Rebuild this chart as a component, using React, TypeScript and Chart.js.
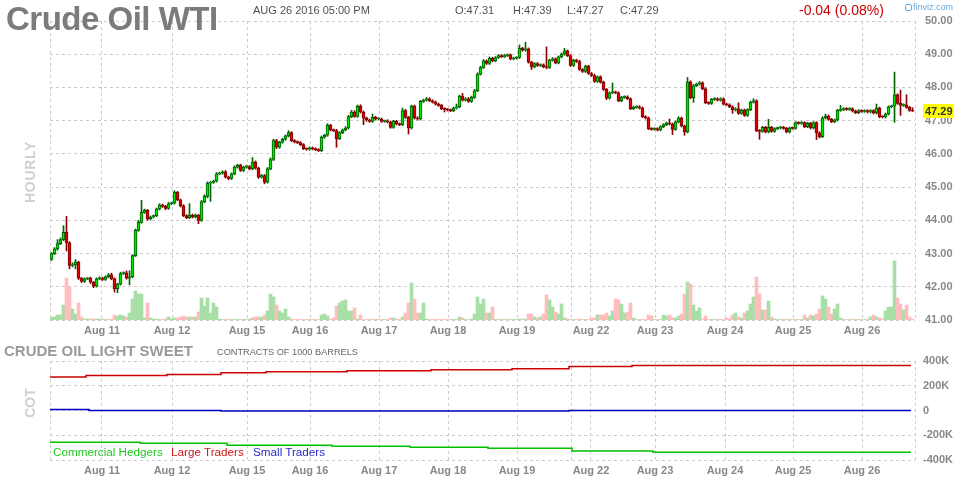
import React, { useEffect, useRef } from "react";
import { Chart, registerables } from "chart.js";

Chart.register(...registerables);

const FONT = "Arial, 'Liberation Sans', Helvetica, sans-serif";

// ---------- hourly candles (Aug 10 07:00 .. Aug 26 17:00) ----------
const firstOpen = 42.82;
const closes = [
  43.00, 43.14, 43.30, 43.42, 43.64, 43.32, 42.64, 42.66, 42.74, 42.26,
  42.16, 42.24, 42.26, 42.14, 42.02, 42.24, 42.26, 42.22, 42.30, 42.36,
  42.24, 41.94, 42.08, 42.40, 42.42, 42.26, 42.30, 42.94, 43.70, 43.94,
  44.24, 44.30, 44.04, 44.10, 44.14, 44.34, 44.46, 44.42, 44.36, 44.50,
  44.52, 44.84, 44.62, 44.44, 44.14, 44.08, 44.16, 44.10, 44.16, 44.00,
  44.56, 44.72, 45.12, 45.14, 45.18, 45.40, 45.42, 45.46, 45.30, 45.26,
  45.40, 45.60, 45.66, 45.50, 45.60, 45.62, 45.55, 45.75, 45.57, 45.30,
  45.35, 45.15, 45.55, 45.83, 46.40, 46.20, 46.35, 46.44, 46.54, 46.64,
  46.40, 46.36, 46.34, 46.28, 46.16, 46.14, 46.18, 46.15, 46.13, 46.10,
  46.50, 46.56, 46.86, 46.72, 46.70, 46.46, 46.64, 46.72, 46.78, 47.12,
  47.26, 47.13, 47.44, 47.26, 47.08, 47.02, 46.98, 47.10, 47.05, 47.05,
  46.98, 46.99, 46.96, 46.80, 46.98, 46.90, 46.88, 47.30, 47.10, 46.78,
  47.44, 47.08, 47.05, 47.58, 47.62, 47.66, 47.60, 47.56, 47.50, 47.46,
  47.36, 47.34, 47.32, 47.30, 47.38, 47.42, 47.74, 47.62, 47.66, 47.58,
  47.70, 47.90, 48.40, 48.60, 48.80, 48.72, 48.88, 48.80, 48.90, 48.96,
  48.93, 48.96, 48.98, 48.86, 48.88, 48.90, 49.18, 49.12, 49.16, 48.76,
  48.62, 48.72, 48.66, 48.68, 48.62, 48.60, 48.82, 48.86, 48.74, 48.92,
  49.00, 49.10, 48.96, 48.66, 48.82, 48.78, 48.54, 48.48, 48.64, 48.42,
  48.36, 48.18, 48.32, 48.16, 47.94, 47.68, 47.84, 47.86, 47.84, 47.60,
  47.70, 47.72, 47.66, 47.36, 47.40, 47.42, 47.38, 47.12, 47.08, 46.76,
  46.74, 46.76, 46.72, 46.82, 46.88, 46.93, 46.90, 46.74, 46.96, 47.08,
  46.84, 46.66, 48.17, 47.69, 48.05, 48.10, 48.14, 47.96, 47.54, 47.52,
  47.64, 47.66, 47.62, 47.66, 47.50, 47.48, 47.42, 47.32, 47.36, 47.22,
  47.32, 47.16, 47.33, 47.56, 47.60, 46.70, 46.68, 46.80, 46.66, 46.80,
  46.68, 46.76, 46.78, 46.80, 46.77, 46.66, 46.78, 46.77, 46.94, 46.92,
  46.94, 46.82, 46.92, 46.78, 46.94, 46.63, 46.52, 47.08, 47.14, 47.04,
  46.97, 47.02, 47.31, 47.33, 47.36, 47.34, 47.36, 47.29, 47.24, 47.30,
  47.28, 47.30, 47.26, 47.30, 47.23, 47.38, 47.12, 47.11, 47.20, 47.42,
  47.44, 47.78, 47.52, 47.46, 47.48, 47.40, 47.31, 47.29,
];

// upper / lower shadow lengths, in cents
const wickUp = [
  3, 4, 12, 5, 20, 48, 4, 6, 8, 3,
  2, 3, 2, 3, 2, 3, 4, 3, 3, 4,
  5, 3, 3, 4, 3, 6, 18, 3, 4, 6,
  36, 4, 3, 3, 2, 3, 4, 3, 3, 4,
  3, 5, 3, 2, 3, 3, 34, 3, 3, 2,
  4, 5, 4, 3, 3, 4, 3, 3, 4, 3,
  3, 4, 3, 3, 3, 4, 3, 14, 4, 3,
  3, 3, 4, 5, 4, 4, 3, 3, 3, 6,
  3, 3, 3, 3, 3, 2, 3, 3, 3, 3,
  4, 3, 5, 3, 3, 4, 3, 3, 4, 4,
  5, 4, 3, 4, 3, 3, 3, 10, 3, 4,
  3, 3, 4, 3, 3, 3, 3, 8, 4, 3,
  3, 3, 4, 3, 3, 4, 3, 3, 3, 3,
  3, 3, 3, 3, 3, 8, 3, 8, 3, 4,
  4, 4, 4, 4, 4, 3, 4, 3, 3, 3,
  3, 4, 3, 3, 3, 3, 10, 3, 20, 3,
  3, 3, 3, 3, 3, 60, 3, 4, 3, 3,
  4, 8, 3, 3, 3, 3, 4, 3, 3, 3,
  3, 4, 3, 3, 3, 3, 3, 27, 3, 3,
  3, 3, 3, 3, 4, 3, 3, 3, 3, 3,
  3, 3, 3, 3, 3, 3, 12, 3, 3, 4,
  3, 3, 13, 3, 4, 3, 4, 3, 3, 3,
  3, 3, 3, 3, 3, 3, 3, 3, 3, 18,
  3, 3, 3, 3, 6, 3, 3, 3, 3, 24,
  3, 3, 3, 3, 3, 3, 3, 3, 3, 3,
  3, 3, 3, 3, 3, 3, 4, 4, 6, 3,
  3, 3, 3, 13, 3, 3, 3, 3, 3, 3,
  3, 3, 3, 3, 3, 12, 3, 3, 3, 3,
  3, 68, 3, 40, 3, 30, 3, 8,
];
const wickDn = [
  3, 3, 4, 3, 3, 24, 10, 4, 12, 4,
  3, 3, 3, 4, 5, 3, 3, 3, 3, 3,
  3, 10, 12, 3, 3, 3, 20, 3, 3, 3,
  3, 3, 4, 3, 3, 3, 3, 3, 4, 3,
  3, 3, 3, 4, 3, 3, 3, 3, 3, 10,
  3, 3, 4, 55, 3, 3, 3, 3, 3, 4,
  3, 3, 3, 3, 3, 3, 3, 3, 3, 4,
  3, 5, 3, 3, 3, 4, 3, 3, 3, 3,
  3, 3, 3, 3, 3, 3, 3, 3, 3, 3,
  3, 3, 3, 3, 3, 26, 3, 3, 3, 3,
  3, 3, 3, 3, 20, 4, 3, 3, 3, 3,
  3, 3, 3, 3, 3, 3, 3, 3, 3, 18,
  3, 3, 3, 3, 3, 3, 3, 3, 3, 3,
  3, 8, 3, 3, 3, 3, 3, 3, 3, 3,
  3, 3, 3, 3, 3, 3, 3, 3, 3, 3,
  3, 3, 3, 3, 3, 3, 3, 3, 3, 3,
  8, 3, 3, 3, 3, 4, 3, 3, 3, 3,
  3, 3, 3, 3, 3, 3, 3, 3, 3, 3,
  3, 3, 3, 3, 3, 5, 3, 3, 3, 3,
  3, 3, 3, 3, 3, 3, 3, 3, 3, 3,
  3, 3, 3, 3, 3, 3, 3, 16, 3, 3,
  3, 10, 3, 3, 14, 3, 3, 3, 3, 3,
  3, 3, 3, 3, 3, 3, 3, 10, 3, 3,
  3, 3, 3, 3, 3, 3, 24, 3, 3, 3,
  3, 3, 3, 3, 3, 3, 3, 3, 3, 3,
  3, 3, 3, 3, 3, 20, 4, 3, 3, 3,
  3, 3, 3, 3, 3, 3, 3, 3, 3, 3,
  3, 3, 3, 3, 3, 3, 3, 3, 3, 3,
  3, 49, 3, 30, 3, 3, 3, 2,
];

// hourly volume, thousands of contracts
const volumes = [
  3, 3, 5, 5, 15, 42, 33, 11, 6, 17,
  3, 1, 1, 1, 1, 1, 1, 1, 0.5, 0.5,
  1, 5, 4, 5, 4, 3, 7, 21, 29, 26,
  26, 2, 17, 2, 1, 1, 0.5, 0.5, 1, 3,
  1, 2, 2, 3, 4, 3, 3, 3, 3, 8,
  22, 14, 22, 7, 17, 13, 1, 0.5, 0.5, 0.5,
  0.5, 0.5, 0.5, 0.5, 0.5, 0.5, 1, 2, 3, 3,
  3, 5, 9, 26, 23, 15, 9, 7, 11, 3,
  1, 0.5, 0.5, 0.5, 0.5, 0.5, 0.5, 0.5, 0.5, 0.5,
  5, 6, 4, 1, 2, 14, 17, 19, 20, 9,
  9, 12, 1, 5, 0.5, 0.5, 0.5, 0.5, 0.5, 0.5,
  0.5, 0.5, 0.5, 2, 2, 1, 0.5, 3, 7, 17,
  37, 21, 7, 7, 17, 1, 0.5, 0.5, 0.5, 0.5,
  0.5, 0.5, 0.5, 0.5, 0.5, 0.5, 3, 2, 0.5, 0.5,
  1, 6, 23, 16, 21, 7, 7, 13, 0.5, 0.5,
  0.5, 0.5, 0.5, 0.5, 0.5, 0.5, 1, 1, 1, 6,
  6, 3, 2, 3, 6, 25, 20, 13, 8, 6,
  16, 2, 1, 0.5, 0.5, 0.5, 1, 0.5, 0.5, 0.5,
  2, 2, 5, 5, 5, 7, 4, 9, 21, 20,
  16, 7, 8, 17, 2, 0.5, 0.5, 0.5, 0.5, 5,
  4, 0.5, 0.5, 0.5, 5, 4, 5, 2, 2, 4,
  6, 26, 38, 36, 15, 9, 12, 1, 4, 0.5,
  0.5, 0.5, 0.5, 0.5, 0.5, 2, 1, 5, 7, 3,
  2, 7, 9, 16, 23, 43, 26, 10, 10, 19,
  3, 1, 0.5, 0.5, 0.5, 0.5, 0.5, 0.5, 0.5, 0.5,
  0.5, 5, 2, 5, 4, 6, 11, 24, 21, 13,
  6, 11, 16, 2, 0.5, 0.5, 0.5, 0.5, 0.5, 0.5,
  0.5, 0.5, 0.5, 3, 5, 3, 2, 1, 9, 13,
  13, 59, 22, 16, 10, 15, 3, 1,
];

// x-axis: session boundaries (in bar units) and their labels
const dayTicks = [0, 17.33, 40.67, 65.67, 86.67, 109.67, 132.67, 155.67, 173.67, 180.33, 201.67, 225, 247.67, 270.67, 288.33];
const dayLabels = ["", "Aug 11", "Aug 12", "Aug 15", "Aug 16", "Aug 17", "Aug 18", "Aug 19", "", "Aug 22", "Aug 23", "Aug 24", "Aug 25", "Aug 26", ""];
const priceTicks = [41, 42, 43, 44, 45, 46, 47, 48, 49, 50];
const cotTicks = [-400, -200, 0, 200, 400];

// COT net positions (thousands of contracts), bar index where each reading starts
const largeIdx = [0, 12, 39, 57, 72, 99, 127, 154, 173, 194, 287];
const largeVal = [270, 283, 291, 305, 313, 321, 329, 337, 356, 364, 364];
const smallIdx = [0, 13, 57, 173, 287];
const smallVal = [8, 0, -4, 1, 1];
const commIdx = [0, 30, 59, 94, 120, 146, 174, 201, 287];
const commVal = [-257, -265, -281, -289, -297, -305, -327, -337, -337];

const GRID = "#cccccc";
const AXIS_TXT = "#888888";

const opens = closes.map((c, i) => (i === 0 ? firstOpen : closes[i - 1]));
const up = closes.map((c, i) => c >= opens[i]);
const highs = closes.map((c, i) => Math.max(opens[i], c) + wickUp[i] / 100);
const lows = closes.map((c, i) => Math.min(opens[i], c) - wickDn[i] / 100);

const lastPricePlugin = {
  id: "lastPrice",
  afterDraw(chart: any) {
    const { ctx, chartArea, scales } = chart;
    const last = closes[closes.length - 1];
    const y = Math.round(scales.y.getPixelForValue(last));
    const x = chartArea.right + 8;
    ctx.save();
    ctx.fillStyle = "#ffff00";
    ctx.fillRect(x, y - 7, 31, 14);
    ctx.fillStyle = "#333333";
    ctx.font = `bold 11px ${FONT}`;
    ctx.textBaseline = "middle";
    ctx.textAlign = "left";
    ctx.fillText(last.toFixed(2), x + 2, y + 0.5);
    ctx.restore();
  },
};

function xScale(height: number) {
  return {
    type: "linear",
    min: 0,
    max: 288.33,
    offset: false,
    grid: { color: GRID, lineWidth: 1, drawTicks: false, offset: false, borderDash: [3, 3] },
    border: { display: false, dash: [3, 3] },
    afterBuildTicks: (s: any) => {
      s.ticks = dayTicks.map((v) => ({ value: v }));
    },
    afterFit: (s: any) => {
      s.height = height;
    },
    ticks: {
      autoSkip: false,
      maxRotation: 0,
      minRotation: 0,
      padding: 4,
      color: AXIS_TXT,
      font: { family: FONT, size: 11, weight: "bold" },
      callback: (_v: any, i: number) => dayLabels[i] ?? "",
    },
  };
}

function Txt(props: { x: number; base: number; size: number; color: string; bold?: boolean; ls?: number; children: any }) {
  const { x, base, size, color, bold, ls, children } = props;
  return (
    <div
      style={{
        position: "absolute",
        left: x,
        top: base - 0.8465 * size,
        fontFamily: FONT,
        fontSize: size,
        lineHeight: `${size}px`,
        fontWeight: bold ? "bold" : "normal",
        color,
        letterSpacing: ls ?? 0,
        whiteSpace: "nowrap",
      }}
    >
      {children}
    </div>
  );
}

function VTxt(props: { cx: number; cy: number; size: number; ls?: number; children: any }) {
  return (
    <div
      style={{
        position: "absolute",
        left: props.cx,
        top: props.cy,
        transform: "translate(-50%, -50%) rotate(-90deg)",
        fontFamily: FONT,
        fontSize: props.size,
        lineHeight: `${props.size}px`,
        fontWeight: "bold",
        color: "#d0d0d0",
        letterSpacing: props.ls ?? 0,
        whiteSpace: "nowrap",
      }}
    >
      {props.children}
    </div>
  );
}

export default function App() {
  const priceRef = useRef<HTMLCanvasElement>(null);
  const cotRef = useRef<HTMLCanvasElement>(null);

  useEffect(() => {
    document.body.style.margin = "0";
    Chart.defaults.font.family = FONT;

    const volumeDs: any = {
      type: "bar",
      label: "Volume",
      yAxisID: "yv",
      data: volumes.map((v, i) => ({ x: i + 0.5, y: v })),
      backgroundColor: up.map((u) => (u ? "#a8dfa6" : "#ffbdbd")),
      borderWidth: 0,
      grouped: false,
      barPercentage: 1,
      categoryPercentage: 1,
      order: 3,
    };
    const wickDs: any = {
      type: "bar",
      label: "Wick",
      yAxisID: "y",
      data: closes.map((_c, i) => ({ x: i + 0.5, y: [lows[i], highs[i]] })),
      backgroundColor: up.map((u) => (u ? "#006400" : "#8b0000")),
      borderWidth: 0,
      grouped: false,
      barThickness: 1,
      order: 2,
    };
    const bodyDs: any = {
      type: "bar",
      label: "Body",
      yAxisID: "y",
      data: closes.map((c, i) => ({ x: i + 0.5, y: [opens[i], c] })),
      backgroundColor: up.map((u) => (u ? "#00e600" : "#e60000")),
      borderColor: up.map((u) => (u ? "#005a00" : "#7a0000")),
      borderWidth: 1,
      borderSkipped: false,
      minBarLength: 1,
      grouped: false,
      barPercentage: 1,
      categoryPercentage: 1,
      order: 1,
    };

    const priceChart = new Chart(priceRef.current as HTMLCanvasElement, {
      type: "bar",
      data: { datasets: [volumeDs, wickDs, bodyDs] },
      options: {
        animation: false,
        responsive: false,
        maintainAspectRatio: false,
        events: [],
        layout: { padding: { left: 50, top: 21, right: 0, bottom: 0 } },
        plugins: { legend: { display: false }, tooltip: { enabled: false } },
        scales: {
          x: xScale(20) as any,
          y: {
            type: "linear",
            position: "right",
            min: 41,
            max: 50,
            grid: { color: GRID, lineWidth: 1, drawTicks: false, borderDash: [3, 3] } as any,
            border: { display: false, dash: [3, 3] },
            afterBuildTicks: (s: any) => {
              s.ticks = priceTicks.map((v) => ({ value: v }));
            },
            afterFit: (s: any) => {
              s.width = 49;
            },
            ticks: {
              padding: 10,
              color: AXIS_TXT,
              font: { family: FONT, size: 11, weight: "bold" },
              callback: (v: any) => Number(v).toFixed(2),
            },
          },
          yv: { type: "linear", display: false, min: 0, max: 299 },
        },
      } as any,
      plugins: [lastPricePlugin],
    });

    const mk = (idx: number[], vals: number[]) => idx.map((x, i) => ({ x, y: vals[i] }));
    const cotChart = new Chart(cotRef.current as HTMLCanvasElement, {
      type: "line",
      data: {
        datasets: [
          { label: "Commercial Hedgers", data: mk(commIdx, commVal), borderColor: "#00c000", borderWidth: 1.5, pointRadius: 0, stepped: true, fill: false },
          { label: "Large Traders", data: mk(largeIdx, largeVal), borderColor: "#cc0000", borderWidth: 1.5, pointRadius: 0, stepped: true, fill: false },
          { label: "Small Traders", data: mk(smallIdx, smallVal), borderColor: "#0000c0", borderWidth: 1.5, pointRadius: 0, stepped: true, fill: false },
        ] as any,
      },
      options: {
        animation: false,
        responsive: false,
        maintainAspectRatio: false,
        events: [],
        layout: { padding: { left: 50, top: 21, right: 0, bottom: 0 } },
        plugins: { legend: { display: false }, tooltip: { enabled: false } },
        scales: {
          x: xScale(20) as any,
          y: {
            type: "linear",
            position: "right",
            min: -400,
            max: 400,
            grid: { color: GRID, lineWidth: 1, drawTicks: false, borderDash: [3, 3] } as any,
            border: { display: false, dash: [3, 3] },
            afterBuildTicks: (s: any) => {
              s.ticks = cotTicks.map((v) => ({ value: v }));
            },
            afterFit: (s: any) => {
              s.width = 49;
            },
            ticks: {
              padding: 8,
              color: AXIS_TXT,
              font: { family: FONT, size: 11, weight: "bold" },
              callback: (v: any) => (Number(v) === 0 ? "0" : `${v}K`),
            },
          },
        },
      } as any,
    });

    return () => {
      priceChart.destroy();
      cotChart.destroy();
    };
  }, []);

  return (
    <div style={{ position: "relative", width: 964, height: 480, background: "#fff", overflow: "hidden" }}>
      <canvas ref={priceRef} width={964} height={340} style={{ position: "absolute", left: 0, top: 0, width: 964, height: 340 }} />
      <canvas ref={cotRef} width={964} height={140} style={{ position: "absolute", left: 0, top: 340, width: 964, height: 140 }} />

      <Txt x={6} base={30} size={33} color="#7b7b7b" bold ls={-0.5}>Crude Oil WTI</Txt>
      <Txt x={253} base={14} size={11} color="#505050">AUG 26 2016 05:00 PM</Txt>
      <Txt x={455} base={14} size={11} color="#505050">O:47.31</Txt>
      <Txt x={513} base={14} size={11} color="#505050">H:47.39</Txt>
      <Txt x={567} base={14} size={11} color="#505050">L:47.27</Txt>
      <Txt x={620} base={14} size={11} color="#505050">C:47.29</Txt>
      <Txt x={799} base={15} size={14} color="#cc0000">-0.04 (0.08%)</Txt>
      <div style={{ position: "absolute", left: 905, top: 4, width: 5, height: 5, border: "1px solid #6aa8dc", borderRadius: 2 }} />
      <Txt x={913} base={11} size={9} color="#6aa8dc">finviz.com</Txt>

      <VTxt cx={29.5} cy={172} size={14} ls={0.7}>HOURLY</VTxt>
      <VTxt cx={30} cy={402.5} size={14}>COT</VTxt>

      <Txt x={4} base={356} size={15} color="#9a9a9a" bold>CRUDE OIL LIGHT SWEET</Txt>
      <Txt x={217} base={356} size={9.2} color="#666666">CONTRACTS OF 1000 BARRELS</Txt>

      <Txt x={53} base={456} size={11.7} color="#1ec81e">Commercial Hedgers</Txt>
      <Txt x={171} base={456} size={11.7} color="#d01818">Large Traders</Txt>
      <Txt x={253} base={456} size={11.7} color="#2a2acc">Small Traders</Txt>
    </div>
  );
}
